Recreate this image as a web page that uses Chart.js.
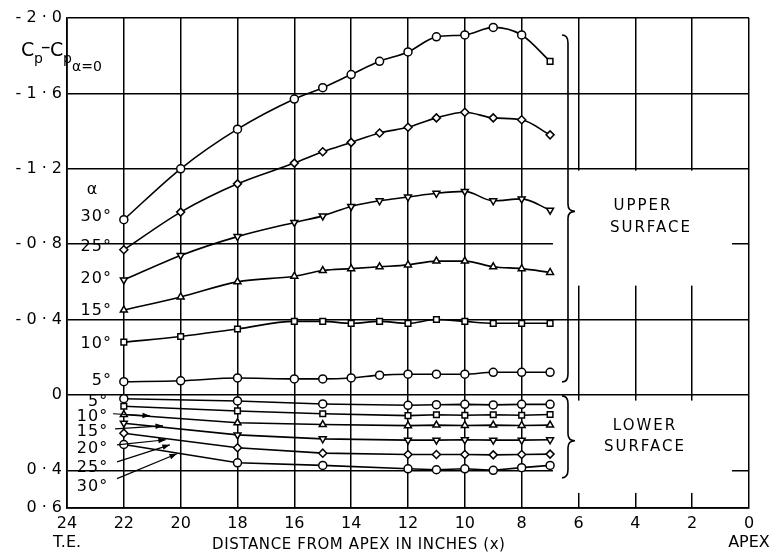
<!DOCTYPE html>
<html>
<head>
<meta charset="utf-8">
<script src="https://cdn.jsdelivr.net/npm/chart.js@4.4.1/dist/chart.umd.min.js"></script>
<style>
  html, body { margin: 0; padding: 0; background: #fff; }
  #wrap { width: 780px; height: 560px; }
</style>
</head>
<body>
<div id="wrap"><canvas id="cpChart" width="780" height="560"></canvas></div>
<script>
// distances from apex (inches)
const xUpper = [22, 20, 18, 16, 15, 14, 13, 12, 11, 10, 9, 8, 7];
const xLower = [22, 18, 15, 12, 11, 10, 9, 8, 7];

// upper surface, Cp - Cp(a=0)
const upper30 = [-0.93, -1.20, -1.41, -1.57, -1.63, -1.70, -1.77, -1.82, -1.90, -1.91, -1.95, -1.91, -1.77];
const upper25 = [-0.77, -0.97, -1.12, -1.23, -1.29, -1.34, -1.39, -1.42, -1.47, -1.50, -1.47, -1.46, -1.38];
const upper20 = [-0.61, -0.74, -0.84, -0.915, -0.95, -1.00, -1.03, -1.05, -1.07, -1.08, -1.03, -1.04, -0.98];
const upper15 = [-0.45, -0.52, -0.60, -0.63, -0.66, -0.67, -0.68, -0.69, -0.71, -0.71, -0.68, -0.67, -0.65];
const upper10 = [-0.28, -0.31, -0.35, -0.39, -0.39, -0.38, -0.39, -0.38, -0.40, -0.39, -0.38, -0.38, -0.38];
const upper5  = [-0.07, -0.075, -0.09, -0.085, -0.085, -0.09, -0.105, -0.11, -0.11, -0.11, -0.12, -0.12, -0.12];

// lower surface
const lower5  = [0.02, 0.032, 0.048, 0.055, 0.052, 0.05, 0.053, 0.05, 0.05];
const lower10 = [0.06, 0.085, 0.10, 0.11, 0.105, 0.108, 0.105, 0.108, 0.104];
const lower15 = [0.104, 0.148, 0.157, 0.163, 0.16, 0.162, 0.16, 0.162, 0.16];
const lower20 = [0.15, 0.212, 0.233, 0.24, 0.24, 0.238, 0.24, 0.24, 0.238];
const lower25 = [0.203, 0.28, 0.309, 0.316, 0.316, 0.316, 0.318, 0.316, 0.314];
const lower30 = [0.263, 0.36, 0.374, 0.392, 0.397, 0.392, 0.40, 0.386, 0.374];

const yTicks = [-2.0, -1.6, -1.2, -0.8, -0.4, 0, 0.4, 0.6];
const yTickText = ['- 2 · 0', '- 1 · 6', '- 1 · 2', '- 0 · 8', '- 0 · 4', '0', '0 · 4', '0 · 6'];
const angleText = ['30°', '25°', '20°', '15°', '10°', '5°'];

const FONT = '"DejaVu Sans", sans-serif';

function pts(xs, ys) { return xs.map((x, i) => ({ x: x, y: ys[i] })); }

function series(xs, ys, style, upper, rot) {
  return {
    data: pts(xs, ys),
    showLine: true,
    borderColor: '#000',
    borderWidth: 1.6,
    tension: upper ? 0.4 : 0,
    cubicInterpolationMode: upper ? 'monotone' : 'default',
    pointStyle: style,
    pointRotation: rot || 0,
    pointRadius: 4,
    pointBackgroundColor: '#fff',
    pointBorderColor: '#000',
    pointBorderWidth: 1.5
  };
}

const style30 = xUpper.map((x, i) => i === xUpper.length - 1 ? 'rect' : 'circle');

function drawBrace(ctx, x, y1, ym, y2) {
  ctx.beginPath();
  ctx.moveTo(x - 6, y1);
  ctx.quadraticCurveTo(x, y1, x, y1 + 8);
  ctx.lineTo(x, ym - 7);
  ctx.quadraticCurveTo(x, ym, x + 7, ym);
  ctx.quadraticCurveTo(x, ym, x, ym + 7);
  ctx.lineTo(x, y2 - 8);
  ctx.quadraticCurveTo(x, y2, x - 6, y2);
  ctx.stroke();
}

function arrow(ctx, x1, y1, x2, y2) {
  ctx.beginPath();
  ctx.moveTo(x1, y1);
  ctx.lineTo(x2, y2);
  ctx.stroke();
  const a = Math.atan2(y2 - y1, x2 - x1);
  ctx.beginPath();
  ctx.moveTo(x2, y2);
  ctx.lineTo(x2 - 8 * Math.cos(a - 0.35), y2 - 8 * Math.sin(a - 0.35));
  ctx.lineTo(x2 - 8 * Math.cos(a + 0.35), y2 - 8 * Math.sin(a + 0.35));
  ctx.closePath();
  ctx.fill();
}

const decorations = {
  id: 'decorations',
  beforeDatasetsDraw(chart) {
    const { ctx, scales: { x, y } } = chart;
    // blank panels where the surface notes sit
    ctx.save();
    ctx.fillStyle = '#fff';
    ctx.fillRect(x.getPixelForValue(6.9), y.getPixelForValue(-1.19),
      x.getPixelForValue(0.6) - x.getPixelForValue(6.9), y.getPixelForValue(-0.58) - y.getPixelForValue(-1.19));
    ctx.fillRect(x.getPixelForValue(6.9), y.getPixelForValue(0.03),
      x.getPixelForValue(0.6) - x.getPixelForValue(6.9), y.getPixelForValue(0.52) - y.getPixelForValue(0.03));
    ctx.restore();
  },
  afterDatasetsDraw(chart) {
    const { ctx, chartArea, scales: { x, y } } = chart;
    const px = v => x.getPixelForValue(v);
    const py = v => y.getPixelForValue(v);
    ctx.save();
    ctx.fillStyle = '#000';
    ctx.strokeStyle = '#000';
    ctx.lineWidth = 1.5;

    // y axis title  Cp - Cp(a=0)
    const l = chartArea.left;
    ctx.textBaseline = 'alphabetic';
    ctx.textAlign = 'left';
    ctx.font = '19px ' + FONT;
    ctx.fillText('C', l - 46, 56);
    ctx.font = '14px ' + FONT;
    ctx.fillText('p', l - 33, 63);
    ctx.font = '19px ' + FONT;
    ctx.fillText('–', l - 26, 53);
    ctx.fillText('C', l - 17, 56);
    ctx.font = '14px ' + FONT;
    ctx.fillText('p', l - 4, 63);
    ctx.fillText('α=0', l + 5, 71);

    // angle labels
    ctx.font = '16px ' + FONT;
    ctx.textAlign = 'center';
    ctx.textBaseline = 'middle';
    ctx.fillText('α', px(23.12), py(-1.09));
    ctx.textAlign = 'right';
    if ('letterSpacing' in ctx) ctx.letterSpacing = '1px';
    const upY = [-0.947, -0.788, -0.614, -0.444, -0.27, -0.074];
    angleText.forEach((t, i) => ctx.fillText(t, px(22.42), py(upY[i])));
    const loY = [0.486, 0.386, 0.286, 0.196, 0.116, 0.037];
    angleText.forEach((t, i) => ctx.fillText(t, px(22.55), py(loY[i])));

    // arrows from lower labels
    ctx.lineWidth = 1.2;
    const arrows = [
      [22.38, 0.10, 21.08, 0.111],
      [22.31, 0.18, 20.62, 0.164],
      [22.24, 0.265, 20.52, 0.238],
      [22.24, 0.355, 20.38, 0.265],
      [22.24, 0.444, 20.13, 0.312]
    ];
    arrows.forEach(a => arrow(ctx, px(a[0]), py(a[1]), px(a[2]), py(a[3])));

    // braces
    ctx.lineWidth = 1.6;
    drawBrace(ctx, px(6.37), py(-1.91), py(-0.974), py(-0.069));
    drawBrace(ctx, px(6.37), py(0.005), py(0.243), py(0.44));

    // surface notes
    ctx.font = '15px ' + FONT;
    ctx.textAlign = 'center';
    if ('letterSpacing' in ctx) ctx.letterSpacing = '2px';
    ctx.fillText('UPPER', px(3.73), py(-1.0));
    ctx.fillText('SURFACE', px(3.45), py(-0.884));
    ctx.fillText('LOWER', px(3.66), py(0.164));
    ctx.fillText('SURFACE', px(3.66), py(0.275));

    // x axis title
    ctx.font = '15px ' + FONT;
    if ('letterSpacing' in ctx) ctx.letterSpacing = '0.6px';
    ctx.fillText('DISTANCE FROM APEX IN INCHES (x)', px(13.73), chartArea.bottom + 37);
    ctx.restore();
  }
};

new Chart(document.getElementById('cpChart'), {
  type: 'scatter',
  data: {
    datasets: [
      series(xUpper, upper30, style30, true),
      series(xUpper, upper25, 'rectRot', true),
      series(xUpper, upper20, 'triangle', true, 180),
      series(xUpper, upper15, 'triangle', true),
      series(xUpper, upper10, 'rect', true),
      series(xUpper, upper5, 'circle', true),
      series(xLower, lower5, 'circle', false),
      series(xLower, lower10, 'rect', false),
      series(xLower, lower15, 'triangle', false),
      series(xLower, lower20, 'triangle', false, 180),
      series(xLower, lower25, 'rectRot', false),
      series(xLower, lower30, 'circle', false)
    ]
  },
  options: {
    responsive: false,
    animation: false,
    devicePixelRatio: 1,
    layout: { padding: { top: 18, right: 31, left: 0, bottom: 0 } },
    plugins: { legend: { display: false }, tooltip: { enabled: false } },
    scales: {
      x: {
        type: 'linear',
        min: 0,
        max: 24,
        reverse: true,
        afterFit: s => { s.height = 52; },
        ticks: {
          stepSize: 2,
          padding: 6,
          color: '#000',
          font: { family: FONT, size: 16 },
          callback: v => v === 24 ? ['24', 'T.E.'] : v === 0 ? ['0', 'APEX'] : String(v)
        },
        grid: { color: '#000', lineWidth: 1.5, drawTicks: false },
        border: { color: '#000', width: 1.7 }
      },
      y: {
        type: 'linear',
        min: -2.0,
        max: 0.6,
        reverse: true,
        afterFit: s => { s.width = 67; },
        afterBuildTicks: s => { s.ticks = yTicks.map(v => ({ value: v })); },
        ticks: {
          padding: 5,
          color: '#000',
          font: { family: FONT, size: 16 },
          callback: (v, i) => yTickText[i]
        },
        grid: { color: '#000', lineWidth: 1.5, drawTicks: false },
        border: { color: '#000', width: 1.7 }
      }
    }
  },
  plugins: [decorations]
});
</script>
</body>
</html>
